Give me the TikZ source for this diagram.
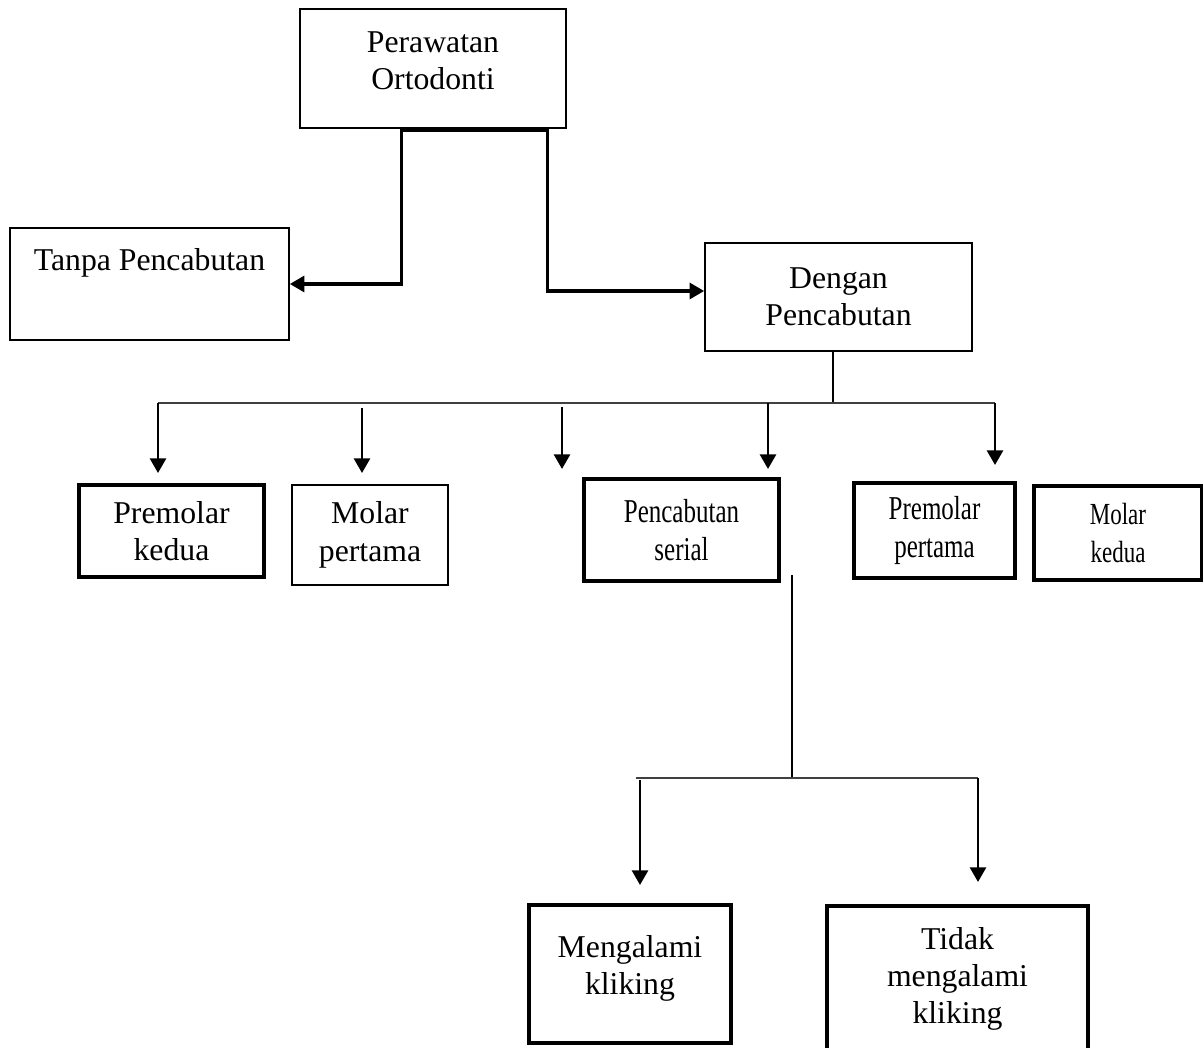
\documentclass[tikz,border=0pt]{standalone}
\usepackage{fontspec}
\setmainfont{Liberation Serif}
\newfontfamily\narrowfont[FakeStretch=0.75]{Liberation Serif}
\usetikzlibrary{arrows.meta,calc}
\newlength{\du}
\setlength{\du}{0.75pt}

\begin{document}
\begin{tikzpicture}[x=\du,y=-\du,
  box/.style={draw,line width=1.2pt,align=center,inner sep=0pt,font=\fontsize{23.8}{28}\selectfont},
  boldbox/.style={box,line width=2.5pt},
  narrow/.style={font=\narrowfont\fontsize{25}{28}\selectfont},
  tip/.style={-{Triangle[width=12pt,length=11pt]}},
  conn/.style={line width=2.5pt,{Triangle[width=12pt,length=11pt]}-{Triangle[width=12pt,length=11pt]}},
  drop/.style={tip,line width=2.1pt},
  bus/.style={line width=1.6pt,black!75},
  stub/.style={line width=0.8pt}]
\useasboundingbox (0,0) rectangle (1203,1048);

% boxes
\node[box,minimum width=266\du,minimum height=119\du,text depth=12pt] (ort) at (433,68.5) {Perawatan\\Ortodonti};
\node[box,minimum width=279\du,minimum height=112\du,text depth=37pt] (tanpa) at (149.5,284) {Tanpa Pencabutan};
\node[box,minimum width=267\du,minimum height=108\du] (dengan) at (838.5,297) {Dengan\\Pencabutan};
\node[boldbox,minimum width=185\du,minimum height=92\du] (pmk) at (171.5,531) {Premolar\\kedua};
\node[box,minimum width=156\du,minimum height=100\du] (mp) at (370,535) {Molar\\pertama};
\node[boldbox,narrow,minimum width=195\du,minimum height=102\du] (ps) at (681.5,530) {Pencabutan\\serial};
\node[boldbox,narrow,minimum width=161\du,minimum height=95\du] (pmp) at (934.5,530.5) {Premolar\\pertama};
\node[boldbox,font=\narrowfont\fontsize{23}{28}\selectfont,minimum width=168\du,minimum height=94\du] (mk) at (1118,533) {Molar\\kedua};
\node[boldbox,minimum width=202\du,minimum height=138\du,text depth=14pt] (meng) at (630,974) {Mengalami\\kliking};
\node[boldbox,minimum width=261\du,minimum height=146\du] (tidak) at (957.5,979) {Tidak\\mengalami\\kliking};

% first split
\draw[conn] (tanpa.east) -| ($(ort.south west)+(102,2)$) -- ($(ort.south west)+(248,2)$) |- ($(dengan.west)+(0,-6)$);

% extraction kinds
\coordinate (dbus) at (833,403);
\coordinate (busL) at (158,403);
\coordinate (busR) at (995,403);
\draw[stub] (dengan.south -| dbus) -- (dbus);
\draw[bus] (busL) -- (busR);
\foreach \x/\s/\e [count=\i] in {158/403/473,362/408/473,562/407/469,768/403/469,995/403/465}{
  \coordinate (t\i) at (\x,\s);
  \coordinate (h\i) at (\x,\e);
  \draw[drop] (t\i) -- (h\i);
}

% serial extraction result
\coordinate (stop) at (792,575);
\coordinate (sbus) at (792,778);
\coordinate (sbusL) at (636,778);
\coordinate (sbusR) at (978,778);
\draw[stub] (stop) -- (sbus);
\draw[bus] (sbusL) -- (sbusR);
\coordinate (m0) at (640,780);
\coordinate (m1) at (640,885);
\coordinate (k1) at (978,882);
\draw[drop] (m0) -- (m1);
\draw[drop] (sbusR) -- (k1);
\end{tikzpicture}
\end{document}
